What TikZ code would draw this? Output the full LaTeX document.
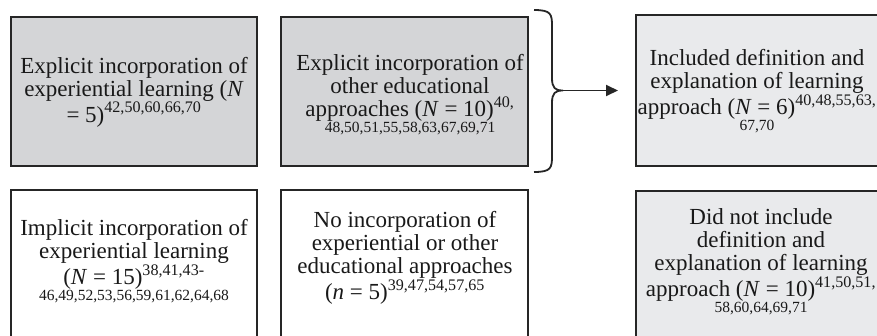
\documentclass[tikz,border=0pt]{standalone}
\usepackage{fontspec}
\setmainfont{Liberation Serif}
\usetikzlibrary{arrows.meta}
\definecolor{darkfill}{RGB}{212,213,215}
\definecolor{lightfill}{RGB}{233,234,236}
\definecolor{edgecol}{RGB}{38,38,38}
\newcommand{\smallline}[1]{{\fontsize{15.5}{16}\selectfont #1}}
\begin{document}
\begin{tikzpicture}[x=1pt,y=-1pt,
  box/.style={draw=edgecol, line width=1.5pt, rectangle, anchor=north west, inner sep=0pt, outer sep=0pt},
  txt/.style={align=flush center, text width=250pt, inner sep=0pt, font=\fontsize{23}{23}\selectfont, text=black!90},
  conn/.style={draw=edgecol, line width=1.8pt}
]
\useasboundingbox (0,0) rectangle (877,335);
% boxes
\node[box, fill=darkfill, minimum width=246pt, minimum height=149pt] (b1) at (11,17) {};
\node[box, fill=darkfill, minimum width=247pt, minimum height=149pt] (b2) at (281,17) {};
\node[box, fill=lightfill, minimum width=250pt, minimum height=151pt] (b3) at (636,15) {};
\node[box, fill=white, minimum width=246pt, minimum height=160pt] (b4) at (11,190) {};
\node[box, fill=white, minimum width=247pt, minimum height=160pt] (b5) at (281,190) {};
\node[box, fill=lightfill, minimum width=250pt, minimum height=160pt] (b6) at (636,191) {};
% texts
\node[txt] (t1) at (134,92) {Explicit incorporation of\\ experiential learning (\textit{N}\\ = 5)\textsuperscript{42,50,60,66,70}};
\node[txt] (t2) at (410,95) {Explicit incorporation of\\ other educational\\ approaches (\textit{N} = 10)\textsuperscript{40,}\\[-7pt] \smallline{48,50,51,55,58,63,67,69,71}};
\node[txt] (t3) at (757,91) {Included definition and\\ explanation of learning\\ approach (\textit{N} = 6)\textsuperscript{40,48,55,63,}\\[-7pt] \smallline{67,70}};
\node[txt] (t4) at (134,261) {Implicit incorporation of\\ experiential learning\\ (\textit{N} = 15)\textsuperscript{38,41,43-}\\[-7pt] \smallline{46,49,52,53,56,59,61,62,64,68}};
\node[txt] (t5) at (405,258) {No incorporation of\\ experiential or other\\ educational approaches\\ (\textit{n} = 5)\textsuperscript{39,47,54,57,65}};
\node[txt] (t6) at (761,262) {Did not include\\ definition and\\ explanation of learning\\ approach (\textit{N} = 10)\textsuperscript{41,50,51,}\\[-7pt] \smallline{58,60,64,69,71}};
% brace and arrow
\coordinate (bt) at (563,90.5);
\draw[conn] (534,10) .. controls (551,10) and (552,14) .. (552,26) -- (552,78) .. controls (552,88) and (555,90.5) .. (bt) .. controls (555,90.5) and (552,93) .. (552,103) -- (552,156) .. controls (552,168) and (551,172) .. (534,172);
\draw[conn, -{Triangle[length=12pt,width=11pt]}, shorten >=18pt] (bt) -- (bt -| b3.west);
\end{tikzpicture}
\end{document}
